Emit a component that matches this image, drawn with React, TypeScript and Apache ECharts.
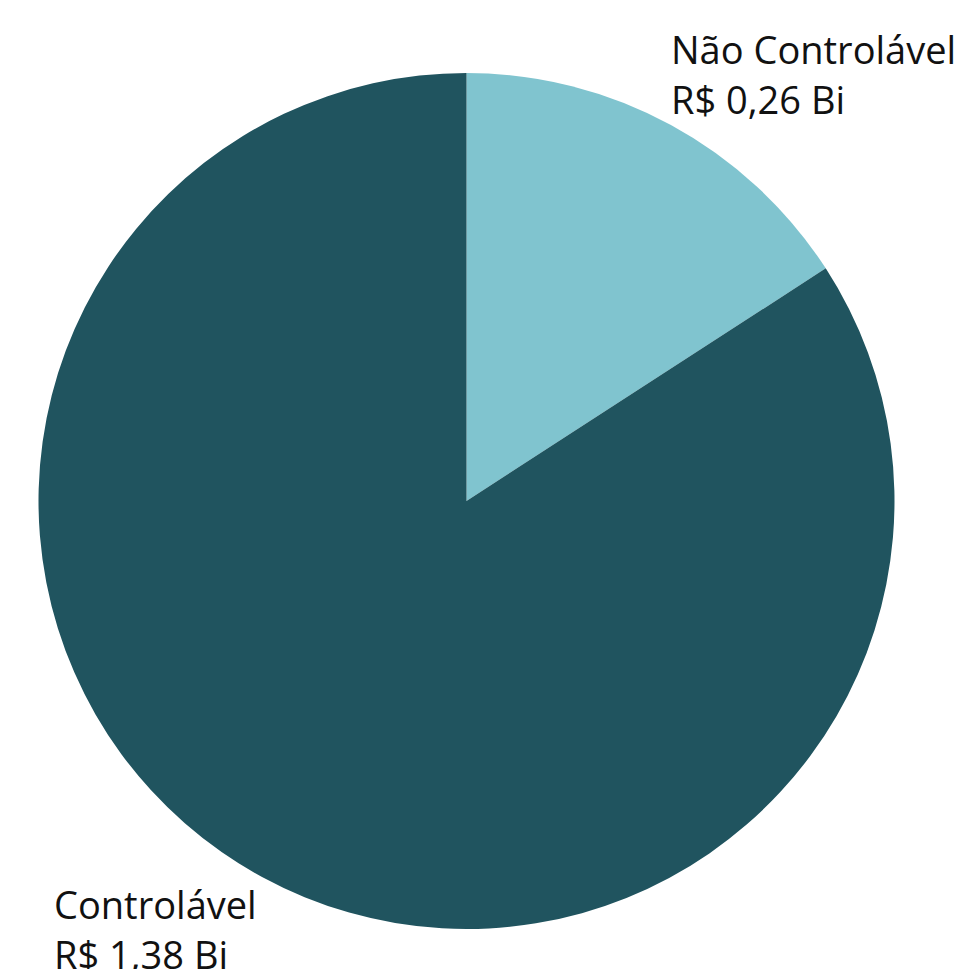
import React, { useEffect, useRef } from "react";
import * as echarts from "echarts";

const categories = ["Não Controlável", "Controlável"];
const values = [0.26, 1.38];
const colors = ["#80C4CF", "#20545F"];

export default function App() {
  const ref = useRef<HTMLDivElement>(null);
  useEffect(() => {
    if (!ref.current) return;
    const chart = echarts.init(ref.current, undefined, { renderer: "svg" });
    const labelPos = [
      { x: 671, y: 24 },
      { x: 54, y: 879 },
    ];
    chart.setOption({
      animation: false,
      backgroundColor: "#ffffff",
      series: [
        {
          type: "pie",
          center: [466.5, 501],
          radius: 428,
          startAngle: 90,
          clockwise: true,
          silent: true,
          data: categories.map((name, i) => ({
            name,
            value: values[i],
            itemStyle: { color: colors[i] },
          })),
          label: {
            show: true,
            formatter: (p: any) =>
              `${p.name}\nR$ ${Number(p.value).toFixed(2).replace(".", ",")} Bi`,
            color: "#111111",
            fontFamily: "Open Sans",
            fontSize: 38,
            lineHeight: 50,
            align: "left",
            overflow: "none",
            width: 400,
          },
          labelLine: { show: false },
          labelLayout: (params: any) => ({
            x: labelPos[params.dataIndex].x,
            y: labelPos[params.dataIndex].y,
            align: "left",
            verticalAlign: "top",
            hideOverlap: false,
          }),
        },
      ],
    });
    return () => chart.dispose();
  }, []);
  return (
    <div
      ref={ref}
      style={{ position: "fixed", left: 0, top: 0, width: 964, height: 969 }}
    />
  );
}
